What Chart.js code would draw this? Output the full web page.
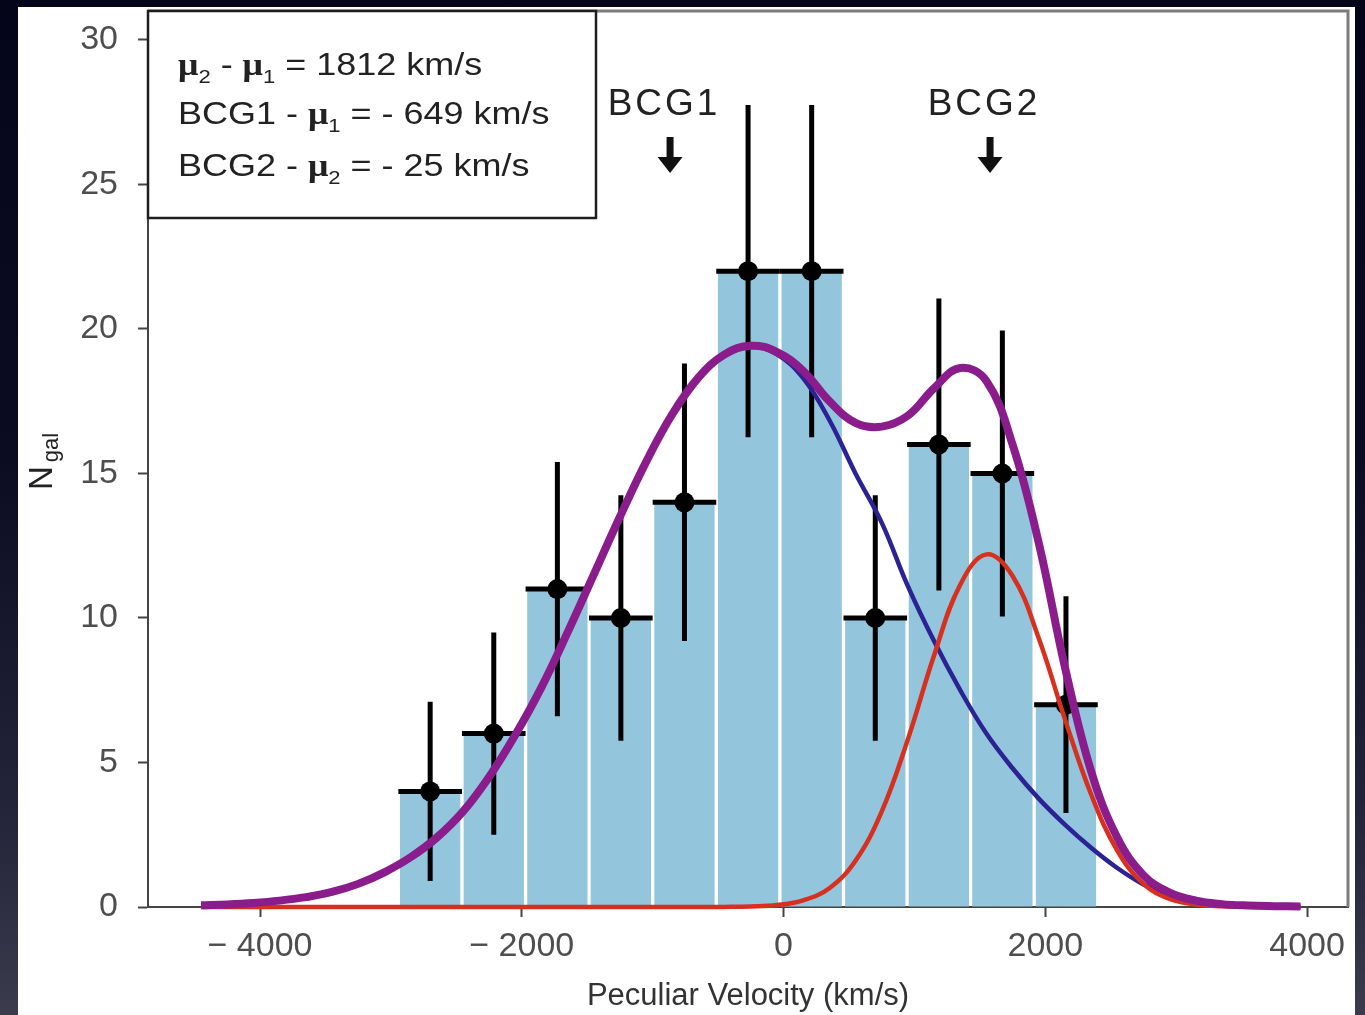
<!DOCTYPE html>
<html>
<head>
<meta charset="utf-8">
<title>Peculiar velocity distribution</title>
<script src="https://cdn.jsdelivr.net/npm/chart.js@4.4.1/dist/chart.umd.min.js"></script>
<style>
  html, body { margin: 0; padding: 0; }
  body {
    width: 1365px; height: 1015px; overflow: hidden;
    background: linear-gradient(to bottom, #05051a 0%, #0b0b22 45%, #222238 78%, #3b3b4d 100%);
  }
  #panel { position: absolute; left: 18px; top: 7px; width: 1337px; height: 1008px; background: #fff; }
</style>
</head>
<body>
<div id="panel"><canvas id="chart"></canvas></div>
<script>
// ---------- Data ----------
const binCenters = [-2700, -2214, -1728, -1243, -757, -271, 215, 701, 1187, 1672, 2158];
const counts     = [4, 6, 11, 10, 14, 22, 22, 10, 16, 15, 7];
const countErr   = [3.1, 3.5, 4.4, 4.25, 4.8, 5.75, 5.75, 4.25, 5.05, 4.95, 3.75];
const binWidth = 486;

const fitV = [-4450, -4250, -4050, -3850, -3650, -3450, -3250, -3050, -2850, -2650,
              -2450, -2250, -2050, -1850, -1650, -1450, -1250, -1050, -850, -650,
              -450, -250, -50, 150, 350, 550, 750, 950, 1150, 1350,
              1550, 1750, 1950, 2150, 2350, 2550, 2750, 2950, 3150, 3350,
              3550, 3750, 3950];
const fitBlue = [0.06, 0.09, 0.14, 0.22, 0.34, 0.52, 0.80, 1.2, 1.72, 2.4,
                 3.3, 4.5, 5.95, 7.6, 9.5, 11.5, 13.5, 15.4, 17.05, 18.32,
                 19.12, 19.4, 19.12, 18.3, 16.85, 15.0, 13.3, 11.1, 9.2, 7.5,
                 6.0, 4.8, 3.75, 2.85, 2.05, 1.35, 0.78, 0.4, 0.19, 0.09,
                 0.04, 0.02, 0.01];
const fitRed = [0, 0, 0, 0, 0, 0, 0, 0, 0, 0,
                0, 0, 0, 0, 0, 0, 0, 0, 0, 0,
                0.004, 0.02, 0.07, 0.23, 0.65, 1.6, 3.3, 5.8, 8.7, 11.15,
                12.2, 11.45, 9.3, 6.5, 3.9, 1.95, 0.8, 0.28, 0.09, 0.025,
                0.006, 0, 0];
const fitTotal = [0.06, 0.09, 0.14, 0.22, 0.34, 0.52, 0.80, 1.2, 1.72, 2.4,
                  3.3, 4.5, 5.95, 7.6, 9.5, 11.5, 13.5, 15.4, 17.05, 18.32,
                  19.12, 19.42, 19.2, 18.55, 17.5, 16.75, 16.62, 17.0, 17.95, 18.65,
                  18.2, 16.0, 12.6, 8.3, 4.7, 2.4, 1.1, 0.5, 0.22, 0.1,
                  0.05, 0.03, 0.02];

const xTickValues = [-4000, -2000, 0, 2000, 4000];
const xTickLabels = ['\u2212 4000', '\u2212 2000', '0', '2000', '4000'];
const yTickValues = [0, 5, 10, 15, 20, 25, 30];

const bcgNames    = ['BCG1', 'BCG2'];
const bcgVelocity = [-867, 1578];

// [text, style]: n = normal, mu = bold greek, sub = subscript
const infoLines = [
  [['\u03bc', 'mu'], ['2', 'sub'], [' - ', 'n'], ['\u03bc', 'mu'], ['1', 'sub'], [' = 1812 km/s', 'n']],
  [['BCG1 - ', 'n'], ['\u03bc', 'mu'], ['1', 'sub'], [' = - 649 km/s', 'n']],
  [['BCG2 - ', 'n'], ['\u03bc', 'mu'], ['2', 'sub'], [' = - 25 km/s', 'n']],
];
const infoBaselines = [64, 113, 165];

const X_MIN = -4856, X_MAX = 4313;
const FONT = "'Liberation Sans', Arial, sans-serif";

// ---------- Plugins ----------
const errorBars = {
  id: 'errorBars',
  afterDatasetDraw(chart, args) {
    if (args.index !== 0) return;
    const { ctx, scales: { x, y } } = chart;
    ctx.save();
    ctx.strokeStyle = '#000';
    ctx.lineWidth = 5;
    binCenters.forEach((v, i) => {
      const px = x.getPixelForValue(v);
      const py = y.getPixelForValue(counts[i]);
      ctx.beginPath();
      ctx.moveTo(px, y.getPixelForValue(counts[i] - countErr[i]));
      ctx.lineTo(px, y.getPixelForValue(counts[i] + countErr[i]));
      ctx.moveTo(x.getPixelForValue(v - binWidth / 2), py);
      ctx.lineTo(x.getPixelForValue(v + binWidth / 2), py);
      ctx.stroke();
    });
    ctx.restore();
  }
};

const notes = {
  id: 'notes',
  afterDraw(chart) {
    const { ctx, chartArea: a, scales: { x } } = chart;
    ctx.save();

    // top / right frame
    ctx.strokeStyle = '#7c7c7c';
    ctx.lineWidth = 3;
    ctx.beginPath();
    ctx.moveTo(a.left, a.top);
    ctx.lineTo(a.right, a.top);
    ctx.lineTo(a.right, a.bottom);
    ctx.stroke();

    // info box
    ctx.fillStyle = '#fff';
    ctx.fillRect(a.left, a.top, 448, 207);
    ctx.strokeStyle = '#1e1e1e';
    ctx.lineWidth = 2.5;
    ctx.strokeRect(a.left, a.top, 448, 207);

    ctx.fillStyle = '#222';
    ctx.textBaseline = 'alphabetic';
    ctx.textAlign = 'left';
    infoLines.forEach((line, li) => {
      ctx.save();
      ctx.translate(a.left + 30, a.top + infoBaselines[li]);
      ctx.scale(1.16, 1);
      let cx = 0;
      line.forEach(([t, s]) => {
        if (s === 'mu') ctx.font = "bold 31px 'Liberation Serif', serif";
        else if (s === 'sub') ctx.font = '19px ' + FONT;
        else ctx.font = '31px ' + FONT;
        ctx.fillText(t, cx, s === 'sub' ? 8 : 0);
        cx += ctx.measureText(t).width;
      });
      ctx.restore();
    });

    // BCG labels + arrows
    bcgNames.forEach((name, i) => {
      const px = x.getPixelForValue(bcgVelocity[i]);
      ctx.fillStyle = '#222';
      ctx.font = '37px ' + FONT;
      ctx.letterSpacing = '3px';
      ctx.textAlign = 'center';
      ctx.fillText(name, px - 6, a.top + 104);
      ctx.letterSpacing = '0px';
      ctx.fillStyle = '#111';
      ctx.fillRect(px - 3.5, a.top + 126, 7, 24);
      ctx.beginPath();
      ctx.moveTo(px - 12.5, a.top + 146);
      ctx.lineTo(px + 12.5, a.top + 146);
      ctx.lineTo(px, a.top + 162);
      ctx.closePath();
      ctx.fill();
    });

    // y-axis title N_gal
    ctx.save();
    ctx.translate(34, 483);
    ctx.rotate(-Math.PI / 2);
    ctx.fillStyle = '#222';
    ctx.textAlign = 'left';
    ctx.font = '33px ' + FONT;
    ctx.fillText('N', 0, 0);
    const wN = ctx.measureText('N').width;
    ctx.font = '22px ' + FONT;
    ctx.fillText('gal', wN + 4, 6);
    ctx.restore();

    ctx.restore();
  }
};

// ---------- Chart ----------
Chart.defaults.font.family = FONT;

const pts = (xs, ys) => xs.map((v, i) => ({ x: v, y: ys[i] }));

new Chart(document.getElementById('chart'), {
  type: 'line',
  data: {
    datasets: [
      {
        type: 'bar',
        data: pts(binCenters, counts),
        backgroundColor: '#93c5dd',
        barPercentage: 0.95,
        categoryPercentage: 1,
        order: 6,
      },
      {
        type: 'scatter',
        data: pts(binCenters, counts),
        pointRadius: 10,
        pointBackgroundColor: '#000',
        pointBorderWidth: 0,
        order: 5,
      },
      {
        data: pts(fitV, fitBlue),
        borderColor: '#2b2394',
        borderWidth: 4.5,
        pointRadius: 0,
        tension: 0.4,
        clip: false,
        order: 3,
      },
      {
        data: pts(fitV, fitRed),
        borderColor: '#d7301f',
        borderWidth: 4.5,
        pointRadius: 0,
        tension: 0.4,
        clip: false,
        order: 2,
      },
      {
        data: pts(fitV, fitTotal),
        borderColor: '#8a1c8c',
        borderWidth: 8,
        pointRadius: 0,
        tension: 0.4,
        clip: false,
        order: 1,
      },
    ],
  },
  options: {
    responsive: true,
    maintainAspectRatio: false,
    animation: false,
    devicePixelRatio: 1,
    layout: { autoPadding: false, padding: { left: 0, top: 4, right: 7, bottom: 0 } },
    plugins: { legend: { display: false }, tooltip: { enabled: false } },
    scales: {
      x: {
        type: 'linear',
        min: X_MIN,
        max: X_MAX,
        offset: false,
        grid: { display: true, drawOnChartArea: false, drawTicks: true, tickLength: 10, tickColor: '#444', tickWidth: 2, offset: false },
        border: { display: true, color: '#444', width: 2 },
        afterBuildTicks: (s) => { s.ticks = xTickValues.map((v) => ({ value: v })); },
        ticks: {
          padding: 9,
          color: '#4e4e4e',
          font: { size: 34 },
          maxRotation: 0,
          autoSkip: false,
          callback: (v) => {
            const i = xTickValues.indexOf(v);
            return i >= 0 ? xTickLabels[i] : '';
          },
        },
        title: { display: true, text: 'Peculiar Velocity (km/s)', color: '#333', font: { size: 31 }, padding: { top: 0, bottom: 0 } },
        afterFit: (s) => { s.height = 108; s.paddingLeft = 0; s.paddingRight = 0; },
      },
      y: {
        type: 'linear',
        min: 0,
        max: 31,
        grid: { display: true, drawOnChartArea: false, drawTicks: true, tickLength: 10, tickColor: '#444', tickWidth: 2 },
        border: { display: true, color: '#444', width: 2 },
        afterBuildTicks: (s) => { s.ticks = yTickValues.map((v) => ({ value: v })); },
        ticks: { padding: 20, color: '#4e4e4e', font: { size: 34 } },
        afterFit: (s) => { s.width = 130; s.paddingTop = 0; s.paddingBottom = 0; },
      },
    },
  },
  plugins: [errorBars, notes],
});
</script>
</body>
</html>
